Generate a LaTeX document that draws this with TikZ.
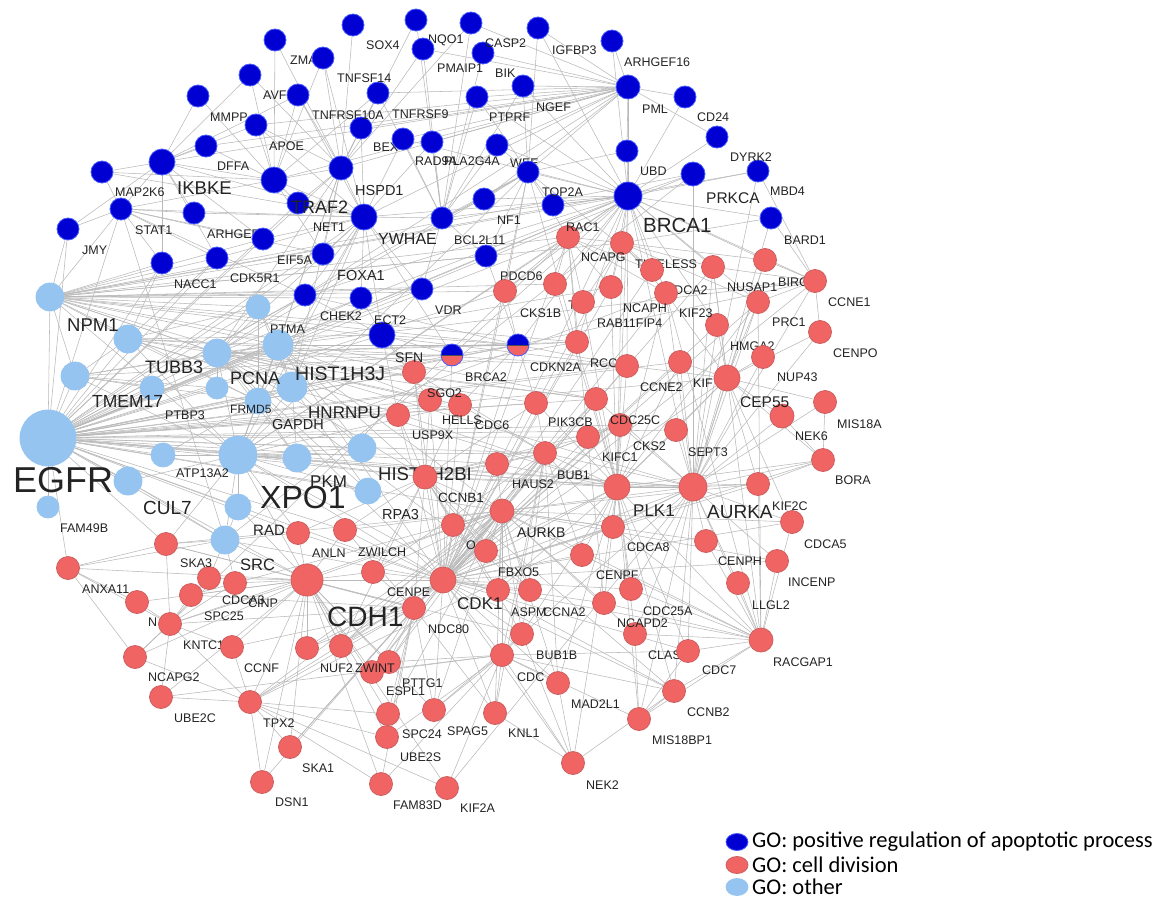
\documentclass[tikz,border=0pt]{standalone}
\usepackage{fontspec}
\usetikzlibrary{shapes.geometric}
\newfontfamily\genefont{Liberation Sans}
\newfontfamily\legendfont{Carlito}
\definecolor{apoblue}{RGB}{0,0,210}
\definecolor{apoedge}{RGB}{70,90,255}
\definecolor{divred}{RGB}{240,100,100}
\definecolor{divedge}{RGB}{205,95,95}
\definecolor{othblue}{RGB}{150,196,240}
\definecolor{linkgray}{RGB}{185,185,185}
\definecolor{labgray}{RGB}{35,35,35}
\pgfdeclarelayer{edgelayer}
\pgfdeclarelayer{labunder}
\pgfdeclarelayer{labover}
\pgfsetlayers{edgelayer,labunder,main,labover}
\tikzset{
  gene/.style={circle, inner sep=0pt, line width=0.8pt},
  apo/.style={gene, fill=apoblue, draw=apoedge},
  div/.style={gene, fill=divred, draw=divedge},
  oth/.style={gene, fill=othblue, draw=othblue},
  halfgene/.style={gene, fill=divred, draw=apoedge,
    path picture={\fill[apoblue] (path picture bounding box.west) rectangle (path picture bounding box.north east);
      \draw[black!70, line width=0.6pt] (path picture bounding box.west) -- (path picture bounding box.east);}},
  genelab/.style={anchor=west, inner sep=0pt, text=labgray},
  link/.style={draw=linkgray, line width=0.55pt},
  legdot/.style={ellipse, inner sep=0pt, minimum width=22pt, minimum height=17pt},
  legtext/.style={anchor=west, inner sep=0pt, font=\legendfont\fontsize{22.5}{24}\selectfont},
}
\begin{document}
\begin{tikzpicture}[x=1pt, y=-1pt]
  \useasboundingbox (0,0) rectangle (1163,900);

  % GO: positive regulation of apoptotic process
  \foreach \n/\px/\py/\d/\txt/\tx/\ty/\fs/\lay in {
    ZMA/275/40/22/ZMA/290/60/12.5/labunder, SOX4/353/25/22/SOX4/366/45/12.5/labover,
    NQO1/416/20/22/NQO1/428/40/12.5/labunder, CASP2/471/23/22/CASP2/485/43/12.5/labover,
    IGFBP3/538/28/22/IGFBP3/552/50/12.5/labover, TNFSF14/323/58/22/TNFSF14/337/78/12.5/labover,
    PMAIP1/423/49/22/PMAIP1/437/68/12.5/labover, BIK/483/53/22/BIK/495/73/12.5/labover,
    ARHGEF16/612/41/22/ARHGEF16/624/62/12.5/labover, AVF/250/75/22/AVF/263/95/12.5/labunder,
    TNFRSF10A/298/95/22/TNFRSF10A/312/115/12.5/labover, TNFRSF9/378/93/22/TNFRSF9/392/114/12.5/labover,
    PTPRF/477/97/22/PTPRF/489/117/12.5/labover, NGEF/523/86/22/NGEF/536/107/12.5/labover,
    PML/628/87/24/PML/642/109/12.5/labover, CD24/685/97/22/CD24/697/117/12.5/labover,
    MMPP/198/96/22/MMPP/210/117/12.5/labunder, APOE/256/125/22/APOE/269/146/12.5/labover,
    BEX/361/128/22/BEX/373/147/12.5/labunder, RAD9A/403/139/22/RAD9A/415/161/12.5/labover,
    PLA2G4A/432/142/22/PLA2G4A/444/161/12.5/labover, WEE/497/145/22/WEE/510/163/12.5/labunder,
    DYRK2/717/137/22/DYRK2/730/157/12.5/labover, UBD/627/151/22/UBD/640/171/12.5/labover,
    DFFA/206/146/22/DFFA/217/166/12.5/labover, IKBKE/162/162/26/IKBKE/177/188/18.5/labover,
    MAP2K6/102/172/22/MAP2K6/115/192/12.5/labover, HSPD1/341/168/24/HSPD1/355/191/14.5/labover,
    TOP2A/528/172/22/TOP2A/542/192/12.5/labover, PRKCA/693/174/24/PRKCA/706/198/15.5/labover,
    MBD4/758/171/22/MBD4/770/191/12.5/labover, TRAF2/274/180/26/TRAF2/291/207/18/labover,
    NF1/484/199/22/NF1/497/220/12.5/labover, BRCA1/628/196/28/BRCA1/643/225/20.5/labover,
    NET1/298/203/22/NET1/313/227/12.5/labover, RAC1/553/205/22/RAC1/566/227/12.5/labover,
    STAT1/121/209/22/STAT1/135/230/12.5/labover, ARHGEF/194/213/22/ARHGEF/207/234/12.5/labunder,
    YWHAE/364/217/26/YWHAE/378/239/16/labover, BCL2L11/442/218/22/BCL2L11/454/240/12.5/labover,
    BARD1/771/218/22/BARD1/784/240/12.5/labover, JMY/68/229/22/JMY/82/250/12.5/labover,
    EIF5A/263/239/22/EIF5A/277/260/12.5/labover, FOXA1/323/254/22/FOXA1/337/276/14.5/labover,
    PDCD6/486/256/22/PDCD6/500/276/12.5/labover, CDK5R1/217/258/22/CDK5R1/230/278/12.5/labover,
    NACC1/162/263/22/NACC1/174/284/12.5/labover, VDR/422/289/22/VDR/435/310/12.5/labover,
    CHEK2/305/295/22/CHEK2/320/316/12.5/labover, ECT2/361/298/22/ECT2/374/320/12.5/labover,
    SFN/382/335/26/SFN/395/358/14/labover}
  {
    \node[apo, minimum size=\d pt] (\n) at (\px,\py) {};
    \begin{pgfonlayer}{\lay}
      \node[genelab, font=\genefont\fontsize{\fs}{\fs}\selectfont] at (\tx,\ty) {\txt};
    \end{pgfonlayer}
  }

  % genes in both groups
  \foreach \n/\px/\py/\tx/\ty in {BRCA2/452/355/465/377, CDKN2A/518/345/530/367}
  {
    \node[halfgene, minimum size=22pt] (\n) at (\px,\py) {};
    \begin{pgfonlayer}{labover}
      \node[genelab, font=\genefont\fontsize{12.5}{12.5}\selectfont] at (\tx,\ty) {\n};
    \end{pgfonlayer}
  }

  % GO: other
  \foreach \n/\px/\py/\d/\txt/\tx/\ty/\fs/\lay in {
    NPM1/50/297/28/NPM1/67/325/18.5/labover, PTMA/258/307/24/PTMA/270/329/12.5/labover,
    TUBB3/128/339/28/TUBB3/145/367/18/labover, HIST1H3J/278/345/30/HIST1H3J/295/374/19.5/labover,
    PCNA/217/353/28/PCNA/230/378/18/labover, TMEM17/75/376/28/TMEM17/92/401/17.5/labover,
    PTBP3/152/388/24/PTBP3/165/415/12.5/labover, FRMD5/217/388/22/FRMD5/230/409/12/labover,
    HNRNPU/292/387/30/HNRNPU/308/413/17/labover, GAPDH/258/401/26/GAPDH/272/425/14.5/labover,
    EGFR/48/438/56/EGFR/13/480/36/labover, ATP13A2/163/455/24/ATP13A2/176/473/12.5/labover,
    XPO1/238/455/38/XPO1/260/497/32/labover, PKM/297/458/28/PKM/310/482/17/labover,
    HIST1H2BI/362/448/28/HIST1H2BI/378/474/18.5/labunder, CUL7/128/481/28/CUL7/143/508/19/labover,
    RPA3/368/491/26/RPA3/382/515/14.5/labover, FAM49B/48/507/22/FAM49B/60/528/12.5/labover,
    RAD/238/507/26/RAD/253/530/15/labunder, SRC/225/540/28/SRC/240/565/16.5/labover}
  {
    \node[oth, minimum size=\d pt] (\n) at (\px,\py) {};
    \begin{pgfonlayer}{\lay}
      \node[genelab, font=\genefont\fontsize{\fs}{\fs}\selectfont] at (\tx,\ty) {\txt};
    \end{pgfonlayer}
  }

  % GO: cell division
  \foreach \n/\px/\py/\d/\txt/\tx/\ty/\fs/\lay in {
    NCAPG/568/237/23/NCAPG/581/257/12.5/labover, TIMELESS/622/243/23/TIMELESS/635/264/12.5/labunder,
    CDCA2/652/270/23/CDCA2/665/290/12.5/labunder, NUSAP1/713/267/23/NUSAP1/727/287/12.5/labover,
    BIRC/765/260/23/BIRC/778/282/12.5/labunder, CCNE1/815/281/23/CCNE1/828/302/12.5/labover,
    CKS1B/505/291/23/CKS1B/520/313/12.5/labover, TT1/555/284/23/T1/568/305/12.5/labunder,
    NCAPH/611/287/23/NCAPH/623/308/12.5/labover, KIF23/666/293/23/KIF23/679/313/12.5/labover,
    RAB11FIP4/583/302/23/RAB11FIP4/597/323/12.5/labover, PRC1/758/302/23/PRC1/772/322/12.5/labover,
    HMGA2/717/325/23/HMGA2/730/346/12.5/labunder, CENPO/820/332/23/CENPO/833/353/12.5/labover,
    RCC/577/342/23/RCC/590/363/12.5/labunder, NUP43/763/357/23/NUP43/777/377/12.5/labover,
    CCNE2/627/366/23/CCNE2/640/387/12.5/labover, KIF/680/362/23/KIF/693/383/12.5/labunder,
    SGO2/414/372/23/SGO2/427/393/12.5/labover, CEP55/727/378/26/CEP55/740/402/15.5/labover,
    CDC25C/596/399/23/CDC25C/610/420/12.5/labover, HELLS/430/400/23/HELLS/442/420/12.5/labover,
    PIK3CB/536/403/23/PIK3CB/548/422/12.5/labover, CDC6/460/405/23/CDC6/475/425/12.5/labover,
    MIS18A/825/402/23/MIS18A/837/424/12.5/labover, USP9X/398/415/23/USP9X/412/435/12.5/labover,
    NEK6/782/416/24/NEK6/795/436/12.5/labover, CKS2/620/425/23/CKS2/633/446/12.5/labover,
    SEPT3/676/430/23/SEPT3/688/452/12.5/labover, KIFC1/588/437/23/KIFC1/602/457/12.5/labover,
    BUB1/545/453/23/BUB1/557/475/12.5/labover, BORA/823/460/23/BORA/835/480/12.5/labover,
    HAUS2/497/464/23/HAUS2/512/484/12.5/labover, CCNB1/425/477/24/CCNB1/438/498/13.5/labover,
    PLK1/617/487/26/PLK1/633/511/17/labover, AURKA/693/487/28/AURKA/707/512/19/labover,
    KIF2C/758/484/23/KIF2C/772/506/12.5/labover, AURKB/502/511/24/AURKB/517/533/14/labover,
    CDCA5/792/522/23/CDCA5/804/544/12.5/labover, O/453/525/23/O/466/545/12.5/labunder,
    CDCA8/613/527/23/CDCA8/627/547/12.5/labover, ANLN/298/533/23/ANLN/312/553/12.5/labover,
    ZWILCH/345/530/23/ZWILCH/358/552/12.5/labover, CENPH/706/541/23/CENPH/718/561/12.5/labover,
    SKA3/166/544/23/SKA3/180/563/12.5/labover, FBXO5/486/551/23/FBXO5/498/572/12.5/labover,
    CENPF/582/555/23/CENPF/596/575/12.5/labunder, INCENP/777/561/23/INCENP/788/582/12.5/labover,
    ANXA11/68/568/23/ANXA11/82/589/12.5/labover, CENPE/373/572/23/CENPE/387/592/12.5/labover,
    CDH1/307/580/32/CDH1/327/617/28/labover, CDK1/443/580/26/CDK1/457/604/17/labover,
    CDCA3/209/578/23/CDCA3/222/600/12.5/labover, CINP/235/583/23/CINP/248/603/12.5/labover,
    LLGL2/738/583/23/LLGL2/752/605/12.5/labover, ASPM/498/590/23/ASPM/511/612/12.5/labunder,
    CCNA2/530/590/23/CCNA2/543/612/12.5/labover, CDC25A/631/589/23/CDC25A/643/611/12.5/labover,
    SPC25/191/595/23/SPC25/204/616/12.5/labover, N/137/602/23/N/148/622/12.5/labunder,
    NCAPD2/604/603/23/NCAPD2/617/623/12.5/labover, NDC80/414/608/23/NDC80/428/629/12.5/labover,
    KNTC1/170/624/23/KNTC1/183/645/12.5/labunder, CLAS/635/634/23/CLAS/648/655/12.5/labunder,
    BUB1B/522/634/23/BUB1B/536/655/12.5/labover, RACGAP1/761/640/24/RACGAP1/773/662/12.5/labover,
    CCNF/232/647/23/CCNF/244/668/12.5/labover, NUF2/307/648/23/NUF2/320/668/12.5/labover,
    ZWINT/341/646/23/ZWINT/355/668/12.5/labover, CDC7/688/651/23/CDC7/702/670/12.5/labover,
    CDC/502/655/23/CDC/517/677/12.5/labunder, NCAPG2/135/657/23/NCAPG2/148/677/12.5/labover,
    PTTG1/389/662/23/PTTG1/402/683/12.5/labover, ESPL1/372/672/23/ESPL1/386/691/12.5/labover,
    MAD2L1/558/683/23/MAD2L1/571/704/12.5/labover, CCNB2/674/691/23/CCNB2/687/712/12.5/labover,
    UBE2C/161/697/23/UBE2C/174/718/12.5/labover, TPX2/250/702/23/TPX2/263/723/12.5/labover,
    SPAG5/434/710/23/SPAG5/447/731/12.5/labover, KNL1/495/713/23/KNL1/508/733/12.5/labover,
    SPC24/388/714/23/SPC24/402/734/12.5/labover, MIS18BP1/639/719/23/MIS18BP1/652/740/12.5/labover,
    UBE2S/387/737/23/UBE2S/400/757/12.5/labover, SKA1/290/747/23/SKA1/302/768/12.5/labover,
    NEK2/573/763/23/NEK2/586/785/12.5/labover, DSN1/262/782/23/DSN1/275/802/12.5/labover,
    FAM83D/381/784/23/FAM83D/393/805/12.5/labover, KIF2A/447/788/23/KIF2A/460/808/12.5/labover}
  {
    \node[div, minimum size=\d pt] (\n) at (\px,\py) {};
    \begin{pgfonlayer}{\lay}
      \node[genelab, font=\genefont\fontsize{\fs}{\fs}\selectfont] at (\tx,\ty) {\txt};
    \end{pgfonlayer}
  }

  % interactions
  \begin{pgfonlayer}{edgelayer}
  \foreach \hub/\nbs in {
    EGFR/{NPM1,TUBB3,TMEM17,PTBP3,PCNA,PTMA,HIST1H3J,FRMD5,GAPDH,HNRNPU,ATP13A2,XPO1,PKM,HIST1H2BI,RPA3,CUL7,FAM49B,RAD,SRC,CDH1,JMY,STAT1,NACC1,CDK5R1,CHEK2,ECT2,SFN,BRCA2,CDKN2A,CKS1B,RCC,SGO2,USP9X,HELLS,CDC6,PIK3CB,CDC25C,KIFC1,BUB1,HAUS2,CCNB1,PLK1,AURKA,AURKB,CEP55,ANLN,ZWILCH,SKA3,ANXA11,CDK1,NCAPG,PRKCA,BRCA1,YWHAE,EIF5A,FOXA1,NET1,VDR,PDCD6,TOP2A,CCNE2,KIF,SEPT3,CKS2},
    NPM1/{JMY,STAT1,NACC1,CDK5R1,TUBB3,TMEM17,PTMA,PCNA,HIST1H3J,EIF5A,FOXA1,CHEK2,ECT2,VDR,BRCA1,NCAPG,PDCD6,CKS1B,CDKN2A,CDC25C,CCNE2,RCC,PLK1,AURKA,XPO1,GAPDH,PRKCA,MBD4,TIMELESS,TT1},
    TUBB3/{PTMA,PCNA,HIST1H3J,HNRNPU,XPO1,CDC25C,PLK1,CCNE2,TMEM17,GAPDH,SFN,NACC1,CDK5R1},
    TMEM17/{PCNA,PTBP3,XPO1,GAPDH,HIST1H3J,BRCA2,FRMD5},
    PCNA/{PTMA,HIST1H3J,HNRNPU,GAPDH,XPO1,CDK1,CDKN2A,CCNB1,CHEK2,BRCA1,RPA3,PKM,FRMD5,CDC25C,CCNE2,CDC6,RCC,PIK3CB,TOP2A,YWHAE,HSPD1,CCNA2,BRCA2,HELLS},
    HIST1H3J/{HNRNPU,PTMA,XPO1,CDK1,AURKB,HIST1H2BI,CCNB1,SGO2,HELLS,CDKN2A,NCAPH,CCNE1},
    XPO1/{PKM,RAD,SRC,CDH1,HIST1H2BI,RPA3,GAPDH,HNRNPU,CCNB1,PLK1,CDK1,AURKA,BUB1,CDC6,ANLN,SKA3,CUL7,ATP13A2,NCAPG,BRCA1,TOP2A,YWHAE,HSPD1,CCNB2,KIF23},
    GAPDH/{PKM,HNRNPU,HSPD1,YWHAE,PTMA,ATP13A2},
    HNRNPU/{PKM,HIST1H2BI,RPA3,YWHAE,HSPD1,PTMA,CDKN2A},
    SRC/{CDH1,RAD,CUL7,SKA3,CDCA3,CINP,ANLN,PRKCA,STAT1,CDK1,ANXA11},
    CDH1/{ANLN,CENPE,NUF2,ZWINT,CCNF,TPX2,SKA1,DSN1,SPC24,SPC25,KNTC1,CDK1,NDC80,ESPL1,PTTG1,ZWILCH,UBE2C,SKA3,CDCA3,CINP,AURKB,BUB1B,KIF2A,SPAG5,UBE2S,FAM83D,NCAPG2,N,ANXA11,RAD},
    CDK1/{CCNB1,CCNA2,CCNB2,CDC,AURKA,AURKB,PLK1,BUB1,BUB1B,CDC25A,CDC25C,CDC6,CDCA8,CENPF,CENPE,CDKN2A,FBXO5,ASPM,NDC80,KIF2C,KIF23,NUSAP1,TOP2A,TPX2,MAD2L1,KNL1,SPAG5,PTTG1,ESPL1,ZWINT,NUF2,O,HAUS2,CKS1B,CKS2,NCAPD2,NCAPG,NCAPH,CCNE1,CCNE2,TIMELESS,RCC,HELLS,SGO2,PRC1,RACGAP1,KIFC1,BORA,INCENP,CDC7,NEK2,CEP55,KIF,HMGA2,CDCA2,CDCA5,BRCA1,BRCA2,ZWILCH,ANLN,USP9X},
    AURKA/{PLK1,BORA,KIF2C,CDCA5,CENPH,INCENP,CDCA8,AURKB,CEP55,NEK6,HMGA2,KIF,SEPT3,CKS2,TPX2,RACGAP1,LLGL2,NUP43,PRC1,NUSAP1,BIRC,MIS18A,CENPO,CCNE1,KIF23,BRCA1,BARD1,MBD4,PRKCA,CDC25A,CLAS,CDC7,CCNB2,MIS18BP1,KIF2A,SPAG5,CCNB1,BUB1,CDC25C},
    PLK1/{BUB1,BUB1B,CCNB1,CDC25C,CDC25A,KIFC1,CKS2,SEPT3,CDCA8,CENPF,NCAPD2,FBXO5,PRC1,KIF23,KIF,CCNE2,RAB11FIP4,NCAPH,NEK2,MAD2L1,ASPM,HAUS2,BORA,CEP55,KIF2C,RACGAP1,CLAS,CDC7,CCNB2,MIS18BP1,TIMELESS,TOP2A,BRCA1,PIK3CB,TT1},
    BRCA1/{BARD1,PML,UBD,PRKCA,TOP2A,RAC1,NCAPG,TIMELESS,CDCA2,NUSAP1,KIF23,BIRC,CCNE1,BRCA2,CDKN2A,CHEK2,RAD9A,NF1,WEE,BCL2L11,PDCD6,CKS1B,NCAPH,RCC,CCNE2,HMGA2,ARHGEF16,IGFBP3,NGEF,PTPRF,CD24,DYRK2,MBD4,YWHAE,TT1,PRC1},
    PML/{ARHGEF16,IGFBP3,NGEF,PTPRF,BIK,CASP2,TOP2A,UBD,CD24,TNFRSF9,PMAIP1,WEE,NF1,RAD9A,PLA2G4A,YWHAE,HSPD1,TRAF2,APOE,BEX,IKBKE,DFFA,CHEK2,DYRK2},
    YWHAE/{HSPD1,TRAF2,NET1,BCL2L11,FOXA1,EIF5A,CDK5R1,CHEK2,ECT2,VDR,BEX,RAD9A,TNFRSF10A,TNFSF14,APOE,SFN,BRCA2,IKBKE,MAP2K6,STAT1,ARHGEF,PLA2G4A},
    HSPD1/{TRAF2,TNFRSF10A,TNFRSF9,APOE,BEX,AVF,ZMA,TNFSF14,SOX4,NQO1,PMAIP1,CASP2,NET1,FOXA1,EIF5A},
    IKBKE/{MAP2K6,STAT1,DFFA,TRAF2,APOE,MMPP,JMY,NACC1,ARHGEF,CDK5R1,EIF5A,TNFRSF10A,AVF},
    TRAF2/{TNFSF14,TNFRSF10A,TNFRSF9,APOE,AVF,ZMA,NET1,MAP2K6,STAT1,DFFA,FOXA1,MMPP},
    STAT1/{MAP2K6,JMY,NACC1,ARHGEF,CDK5R1,EIF5A,FOXA1,CHEK2},
    BCL2L11/{PMAIP1,BIK,CASP2,NGEF,PTPRF,NF1,TOP2A,PDCD6,VDR,RAD9A,PLA2G4A,TNFRSF9,NQO1,WEE},
    TOP2A/{NF1,PTPRF,NGEF,IGFBP3,RAC1,PDCD6,CKS1B,NCAPG,CDCA2,WEE,UBD},
    SFN/{BRCA2,CDKN2A,ECT2,VDR,CHEK2,SGO2,USP9X,HELLS},
    CDKN2A/{CKS1B,CCNE2,CCNE1,RCC,PIK3CB,CDC6,BRCA2,CHEK2,PDCD6},
    CCNB1/{CCNA2,CCNB2,BUB1,BUB1B,AURKB,HAUS2,CDC6,HELLS,SGO2,USP9X,CENPE,NDC80,ZWILCH,ANLN,ZWINT,O,FBXO5,ASPM,KIFC1,CKS2,PIK3CB},
    AURKB/{BUB1,HAUS2,O,FBXO5,ASPM,CCNA2,CENPF,CDCA8,CDCA5,INCENP,CENPH,KIF2C,SPAG5,KNL1,NDC80,CENPE,SKA1,SKA3,SPC24,SPC25,ZWINT,NUF2,KNTC1,ZWILCH,CDC,MAD2L1,BUB1B,PTTG1,ESPL1,TPX2,NCAPD2,RACGAP1,CLAS},
    BUB1/{BUB1B,MAD2L1,CDC,KNL1,ZWINT,NDC80,CENPE,CENPF,KIFC1,CKS2,HAUS2,PIK3CB,CDC6,SGO2,CDCA8,CDC25C},
    CDC/{MAD2L1,BUB1B,KNL1,SPAG5,NEK2,PTTG1,ESPL1,CCNB2,MIS18BP1,CDC7,UBE2S,UBE2C,KIF2A,FAM83D},
    NDC80/{NUF2,SPC24,SPC25,KNTC1,ZWINT,ZWILCH,CENPE,SKA1,SKA3,DSN1,KNL1,TPX2,CCNF,ESPL1,PTTG1,UBE2S,FAM83D,SPAG5},
    KNTC1/{N,SPC25,SKA3,CDCA3,CINP,NCAPG2,UBE2C,CCNF,TPX2,ANXA11},
    TPX2/{DSN1,SKA1,UBE2C,NCAPG2,CCNF,SPC24,UBE2S,FAM83D,KIF2A},
    ANXA11/{SKA3,N,NCAPG2},
    RACGAP1/{CENPH,INCENP,LLGL2,CDCA8,CDC25A,NCAPD2,CENPF,CDCA5,KIF2C,KIF23,PRC1,NUSAP1,CDC7,CCNB2,MIS18BP1,CLAS},
    NEK2/{MAD2L1,KNL1,BUB1B,CCNB2},
    MIS18BP1/{CCNB2,CLAS,CDC7},
    CEP55/{NEK6,MIS18A,BORA,CENPO,NUP43,PRC1,HMGA2,KIF,CCNE2,SEPT3,KIF2C,CDCA5,NUSAP1,BIRC,KIF23},
    BORA/{NEK6,KIF2C,MIS18A},
    CCNE1/{CENPO,BIRC,PRC1,NUSAP1,BARD1,MBD4,KIF23},
    NCAPG/{NCAPH,NCAPD2,NCAPG2,TIMELESS,CDCA2,KIF23,CKS1B,RAB11FIP4,RCC,TT1},
    TIMELESS/{CDCA2,NUSAP1,KIF23,NCAPH,RAB11FIP4,BIRC,BARD1,PRC1}}
  {
    \foreach \nb in \nbs {\draw[link] (\hub) -- (\nb);}
  }
  \end{pgfonlayer}

  % legend
  \node[apo, legdot] (legapo) at (737,842) {};
  \node[div, legdot] (legdiv) at (737,865) {};
  \node[oth, legdot] (legoth) at (737,887) {};
  \node[legtext] at (752,842) {GO: positive regulation of apoptotic process};
  \node[legtext] at (752,865) {GO: cell division};
  \node[legtext] at (752,887) {GO: other};
\end{tikzpicture}
\end{document}
